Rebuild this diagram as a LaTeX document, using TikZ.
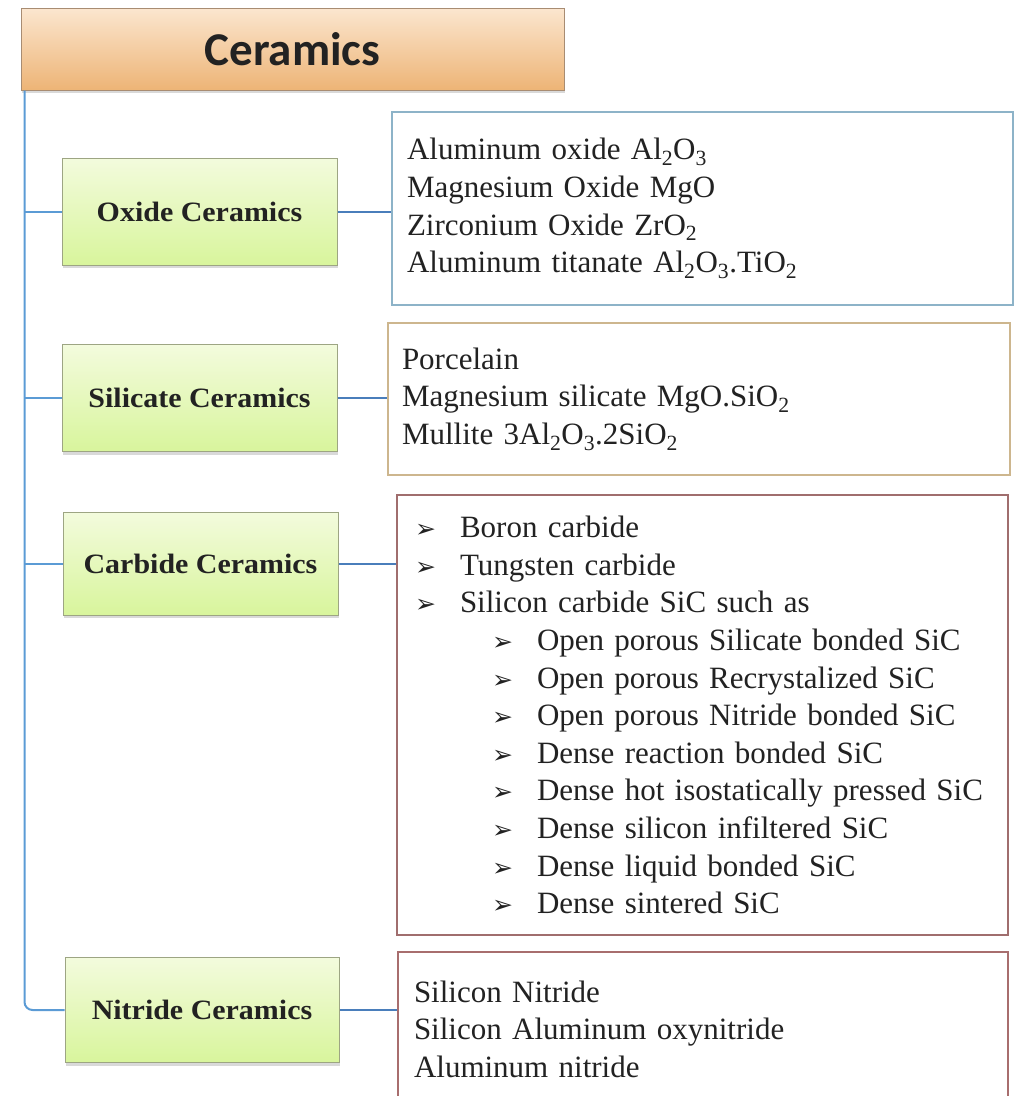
\documentclass[tikz,border=0pt]{standalone}
\usepackage{fontspec}
\setmainfont{Liberation Serif}
\newfontfamily\listfont{Liberation Serif}
\newfontfamily\groupfont{Liberation Serif}[FakeStretch=1.07]
\newfontfamily\headfont{Carlito}
\newfontfamily\arrowfont{DejaVu Sans}
\usetikzlibrary{shadows}

\definecolor{inkgray}{HTML}{222222}
\definecolor{trunkblue}{HTML}{5B9BD5}
\definecolor{linkblue}{HTML}{4A7EBB}
\definecolor{headtop}{HTML}{FBE6CF}
\definecolor{headbot}{HTML}{EDB476}
\definecolor{headline}{HTML}{A88C72}
\definecolor{grouptop}{HTML}{F3FBDD}
\definecolor{groupbot}{HTML}{D8F59C}
\definecolor{groupline}{HTML}{9DA583}
\definecolor{oxideline}{HTML}{8DB3C8}
\definecolor{silicateline}{HTML}{CDB68E}
\definecolor{carbideline}{HTML}{A06E6E}
\definecolor{nitrideline}{HTML}{A86E6E}

% bullets of the carbide list
\newcommand{\bul}[1]{\makebox[45pt][l]{\arrowfont\fontsize{25}{25}\selectfont ➢}#1}
\newcommand{\subbul}[1]{\hspace*{77pt}\bul{#1}}

\begin{document}
\begin{tikzpicture}[x=1pt, y=-1pt,
    every node/.style={text=inkgray},
    head/.style={draw=headline, line width=1pt, top color=headtop, bottom color=headbot,
      minimum width=543pt, minimum height=82pt,
      font=\headfont\bfseries\fontsize{47}{47}\selectfont,
      drop shadow={shadow xshift=1pt, shadow yshift=-3pt, opacity=0.3}},
    group/.style={draw=groupline, line width=1pt, top color=grouptop, bottom color=groupbot,
      minimum width=275pt, minimum height=107pt,
      font=\groupfont\bfseries\fontsize{28}{28}\selectfont,
      drop shadow={shadow xshift=1pt, shadow yshift=-3pt, opacity=0.3}},
    members/.style={draw, line width=1.2pt, align=left, fill=white,
      font=\listfont\fontsize{31}{37.6}\selectfont},
    trunk/.style={trunkblue, line width=2pt},
    link/.style={linkblue, line width=2pt}]

\useasboundingbox (0,0) rectangle (1023,1096);
\clip (0,0) rectangle (1023,1096);

% Root of the tree
\node[head] (ceramics) at (292.5,49) {Ceramics};

% The four groups
\node[group] (oxide) at (199.5,211.5) {Oxide Ceramics};
\node[group] (silicate) at (199.5,398) {Silicate Ceramics};
\node[group, minimum height=103pt] (carbide) at (200.5,563.5) {Carbide Ceramics};
\node[group, minimum width=274pt, minimum height=105pt] (nitride) at (202,1010) {Nitride Ceramics};

% Members of each group
\node[members, draw=oxideline, inner xsep=15pt, text width=591pt, minimum height=193pt]
  (oxidelist) at (702.5,208.5)
  {Aluminum oxide Al\textsubscript{2}O\textsubscript{3}\\
   Magnesium Oxide MgO\\
   Zirconium Oxide ZrO\textsubscript{2}\\
   Aluminum titanate Al\textsubscript{2}O\textsubscript{3}.TiO\textsubscript{2}};

\node[members, draw=silicateline, inner xsep=14pt, text width=594pt, minimum height=152pt]
  (silicatelist) at (699,399)
  {Porcelain\\
   Magnesium silicate MgO.SiO\textsubscript{2}\\
   Mullite 3Al\textsubscript{2}O\textsubscript{3}.2SiO\textsubscript{2}};

\node[members, draw=carbideline, inner xsep=18pt, text width=575pt, minimum height=440pt]
  (carbidelist) at (702.5,715)
  {\bul{Boron carbide}\\
   \bul{Tungsten carbide}\\
   \bul{Silicon carbide SiC such as}\\
   \subbul{Open porous Silicate bonded SiC}\\
   \subbul{Open porous Recrystalized SiC}\\
   \subbul{Open porous Nitride bonded SiC}\\
   \subbul{Dense reaction bonded SiC}\\
   \subbul{Dense hot isostatically pressed SiC}\\
   \subbul{Dense silicon infiltered SiC}\\
   \subbul{Dense liquid bonded SiC}\\
   \subbul{Dense sintered SiC}};

\node[members, draw=nitrideline, inner xsep=16pt, text width=578pt, minimum height=154pt]
  (nitridelist) at (703,1029)
  {Silicon Nitride\\
   Silicon Aluminum oxynitride\\
   Aluminum nitride};

% Trunk and branches
\coordinate (root) at ([xshift=4pt]ceramics.south west);
\draw[trunk, rounded corners=8pt] (root) |- (nitride.west);
\foreach \g in {oxide, silicate, carbide}
  \draw[trunk] (root |- \g.west) -- (\g.west);

% Groups to their members
\foreach \g in {oxide, silicate, carbide, nitride}
  \draw[link] (\g.east) -- (\g.east -| \g list.west);

\end{tikzpicture}
\end{document}
